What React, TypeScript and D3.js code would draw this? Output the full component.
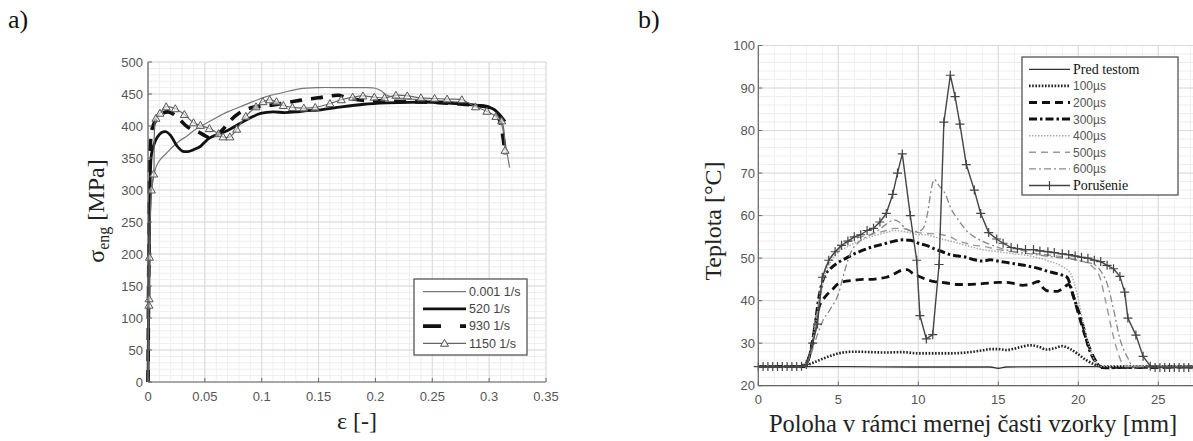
import * as d3 from "d3";

type Pt = [number, number];

// ---- panel a) : engineering stress vs strain ----
const strainTicks = [0, 0.05, 0.1, 0.15, 0.2, 0.25, 0.3, 0.35];
const stressTicks = [0, 50, 100, 150, 200, 250, 300, 350, 400, 450, 500];
const rateLabels = ["0.001 1/s", "520 1/s", "930 1/s", "1150 1/s"];

const rate0001: Pt[] = [
  [0, 0], [0.001, 150], [0.002, 250], [0.003, 295], [0.005, 322], [0.008, 340],
  [0.012, 350], [0.016, 357], [0.022, 368], [0.028, 377], [0.034, 384], [0.042, 395],
  [0.05, 403], [0.06, 413], [0.07, 422], [0.081, 430], [0.092, 438], [0.104, 446],
  [0.118, 452], [0.133, 458], [0.15, 460], [0.17, 460], [0.19, 460], [0.2, 459],
  [0.205, 455], [0.21, 448], [0.22, 444], [0.24, 441], [0.26, 439], [0.28, 436],
  [0.29, 433], [0.3, 430], [0.305, 425], [0.309, 415], [0.312, 395], [0.315, 365], [0.318, 335],
];
const rate520: Pt[] = [
  [0, 0], [0.001, 200], [0.002, 320], [0.003, 355], [0.005, 370], [0.008, 382],
  [0.012, 390], [0.016, 391], [0.02, 385], [0.025, 370], [0.03, 361], [0.035, 360],
  [0.04, 363], [0.046, 368], [0.05, 375], [0.054, 381], [0.06, 386], [0.07, 393],
  [0.08, 403], [0.09, 413], [0.1, 420], [0.11, 422], [0.12, 421], [0.13, 422],
  [0.14, 424], [0.15, 425], [0.17, 430], [0.19, 434], [0.21, 436], [0.23, 437],
  [0.25, 437], [0.27, 435], [0.29, 432], [0.3, 429], [0.305, 425], [0.31, 416], [0.314, 407],
];
const rate930: Pt[] = [
  [0, 0], [0.001, 250], [0.002, 370], [0.004, 398], [0.008, 412], [0.013, 420],
  [0.018, 422], [0.023, 418], [0.028, 410], [0.033, 401], [0.038, 395], [0.045, 390],
  [0.05, 385], [0.055, 381], [0.06, 385], [0.066, 395], [0.072, 408], [0.08, 420],
  [0.09, 428], [0.1, 431], [0.11, 433], [0.12, 436], [0.13, 439], [0.14, 442],
  [0.15, 444], [0.16, 447], [0.168, 448], [0.175, 444], [0.19, 440], [0.21, 439],
  [0.23, 438], [0.25, 437], [0.27, 435], [0.29, 432], [0.3, 429], [0.305, 423],
  [0.309, 410], [0.312, 385], [0.314, 355],
];
const rate1150: Pt[] = [
  [0, 0], [0.0008, 120], [0.001, 130], [0.0013, 195], [0.003, 300], [0.005, 325],
  [0.007, 412], [0.0105, 420], [0.016, 430], [0.024, 427], [0.032, 418], [0.04, 405],
  [0.046, 401], [0.054, 396], [0.062, 388], [0.066, 383], [0.072, 383], [0.078, 395],
  [0.086, 415], [0.095, 430], [0.101, 438], [0.107, 441], [0.113, 438], [0.119, 432],
  [0.127, 429], [0.137, 428], [0.147, 429], [0.16, 435], [0.17, 441], [0.18, 445],
  [0.189, 447], [0.199, 445], [0.208, 444], [0.218, 448], [0.228, 447], [0.24, 444],
  [0.252, 443], [0.263, 442], [0.276, 441], [0.288, 430], [0.298, 423], [0.306, 415],
  [0.311, 408], [0.314, 362],
];

// ---- panel b) : temperature along gauge length ----
const posTicks = [0, 5, 10, 15, 20, 25];
const tempTicks = [20, 30, 40, 50, 60, 70, 80, 90, 100];
const timeLabels = ["Pred testom", "100µs", "200µs", "300µs", "400µs", "500µs", "600µs", "Porušenie"];

const tBefore: Pt[] = [
  [0, 24.5], [5, 24.5], [10, 24.4], [14.5, 24.4], [15, 24.1], [15.5, 24.4], [20, 24.5], [27.3, 24.5],
];
const t100: Pt[] = [
  [0, 24.5], [2.5, 24.5], [3, 24.8], [3.5, 25.5], [4, 26.3], [4.5, 27], [5, 27.6],
  [5.5, 27.9], [6, 28], [7, 27.9], [8, 27.8], [9, 27.9], [10, 27.6], [11, 27.6],
  [12, 27.6], [13, 27.8], [14, 28.3], [14.5, 28.6], [15, 28.6], [15.5, 28.4], [16, 28.7],
  [16.5, 29.2], [17, 29.5], [17.5, 29.2], [18, 28.5], [18.5, 28.8], [19, 29.3],
  [19.5, 28.6], [20, 27.4], [20.5, 26], [21, 25], [21.5, 24.5], [27.3, 24.5],
];
const t200: Pt[] = [
  [0, 24.5], [2.8, 24.5], [3.2, 27], [3.5, 33], [3.8, 38.5], [4.2, 41], [4.6, 42.5],
  [5, 44], [5.5, 44.6], [6, 44.8], [6.5, 45], [7, 45], [7.5, 45.2], [8, 45.5], [8.5, 46.3],
  [9, 47.2], [9.3, 47.3], [9.7, 46.3], [10, 45.8], [10.5, 45], [11, 44.5], [11.5, 44.3],
  [12, 44], [12.5, 43.8], [13, 43.8], [14, 44], [15, 44.3], [15.5, 44.3], [16, 44],
  [16.5, 43.6], [17, 43.8], [17.5, 44.5], [17.8, 43], [18.2, 42.2], [18.7, 42.2],
  [19, 42.8], [19.4, 43.8], [19.7, 41], [20, 37], [20.4, 32], [20.8, 28], [21.2, 25.2],
  [21.5, 24.3], [22.5, 24.3], [27.3, 24.4],
];
const t300: Pt[] = [
  [0, 24.5], [2.8, 24.5], [3.2, 27], [3.5, 33], [3.8, 41], [4.1, 45.5], [4.5, 47.5],
  [5, 49], [5.5, 50], [6, 51], [6.5, 51.8], [7, 52.5], [7.5, 53], [8, 53.5], [8.5, 54],
  [9, 54.3], [9.5, 54.2], [10, 53.5], [10.5, 53], [11, 52.2], [11.5, 51.5], [12, 50.8],
  [12.5, 50.5], [13, 50.2], [13.5, 49.6], [14, 49.3], [14.5, 49.6], [15, 49.3],
  [15.5, 49], [16, 48.7], [16.5, 48.4], [17, 48], [17.5, 47.6], [18, 47], [18.5, 46.5],
  [19, 46], [19.3, 45.5], [19.7, 40.9], [20.2, 35.4], [20.7, 28.4], [21.15, 25.3],
  [21.5, 24.3], [22, 24.2], [22.5, 24.3], [27.3, 24.4],
];
const t400: Pt[] = [
  [0, 24.5], [2.8, 24.5], [3.2, 27], [3.6, 35], [4, 44], [4.5, 49], [5, 51.5],
  [5.5, 52.5], [6, 53.5], [7, 55], [8, 56], [8.5, 56.5], [9, 56.3], [9.5, 56],
  [10, 55.5], [10.5, 55.5], [11, 55], [12, 54], [13, 53], [14, 52], [15, 51.5], [16, 51],
  [17, 50.5], [18, 49.5], [19, 48], [19.5, 46.5], [19.9, 42], [20.3, 35], [20.7, 29],
  [21.1, 25.5], [21.4, 24.5], [27.3, 24.5],
];
const t500: Pt[] = [
  [0, 24.5], [2.8, 24.5], [3.2, 27], [3.6, 35], [4, 45], [4.5, 50], [5, 52], [5.5, 53.5],
  [6, 54.5], [7, 55.5], [8, 56.5], [8.5, 57], [9, 57], [9.5, 56.5], [10, 56], [10.5, 55.8],
  [11, 55.7], [11.5, 55.5], [12, 55], [12.5, 54], [13, 53.5], [13.5, 53], [14, 52.8],
  [15, 52], [16, 51.5], [16.5, 51.8], [17, 51.3], [18, 50.8], [19, 50.3], [20, 49.5],
  [20.7, 48.5], [21.3, 46], [21.7, 40], [22.1, 33], [22.5, 27.5], [22.9, 24.5], [27.3, 24.5],
];
const t600: Pt[] = [
  [0, 24.5], [2.8, 24.5], [3.2, 26.5], [3.6, 31], [4, 35], [4.5, 38], [5, 41.5],
  [5.4, 47], [5.8, 51.5], [6.2, 53.5], [7, 55.5], [7.5, 56.5], [8, 58], [8.5, 59],
  [8.8, 58.5], [9.2, 57], [9.6, 56.3], [10, 56.3], [10.3, 57], [10.6, 61], [10.8, 66],
  [11, 68.5], [11.3, 67], [11.7, 65], [12, 62], [12.5, 59], [13, 56.5], [13.5, 55],
  [14, 54], [15, 52.5], [16, 51.5], [17, 51], [18, 50.5], [19, 50], [20, 49.5],
  [20.5, 49], [21, 48.5], [21.5, 46.4], [21.8, 44], [22.2, 38], [22.6, 31], [23.1, 26.5],
  [23.4, 24.5], [27.3, 24.5],
];
const tFailure: Pt[] = [
  [0, 24.5], [0.3, 24.5], [0.6, 24.5], [0.9, 24.5], [1.2, 24.5], [1.5, 24.5], [1.8, 24.5],
  [2.1, 24.5], [2.4, 24.5], [2.7, 24.6], [3.0, 25], [3.4, 30], [3.7, 34.5], [4.0, 45.5],
  [4.4, 49.5], [4.8, 51.5], [5.2, 53], [5.6, 54], [6.0, 55], [6.4, 55.5], [6.8, 56.5],
  [7.2, 57], [7.6, 58.5], [8.0, 60.5], [8.4, 65], [8.7, 70], [9.0, 74.5], [9.5, 60],
  [9.9, 49.5], [10.1, 36.5], [10.5, 31], [10.9, 32], [11.3, 48.5], [11.6, 82], [12.0, 93],
  [12.3, 88], [12.6, 81.5], [13.0, 72], [13.5, 66], [13.9, 60.5], [14.4, 56], [14.9, 54.5],
  [15.3, 53.5], [15.8, 52.5], [16.2, 52.2], [16.7, 52], [17.2, 52], [17.6, 51.7],
  [18.1, 51.5], [18.5, 51.3], [19, 51], [19.4, 50.8], [19.8, 50.5], [20.2, 50.2],
  [20.6, 50], [21, 49.5], [21.4, 49.2], [21.8, 48.3], [22.2, 47.5], [22.6, 45.7],
  [22.9, 42], [23.1, 35.9], [23.6, 31.9], [24.05, 26.9], [24.5, 24.6], [24.8, 24.3],
  [25.1, 24.3], [25.4, 24.3], [25.7, 24.3], [26.0, 24.3], [26.3, 24.3], [26.6, 24.3],
  [26.9, 24.3], [27.2, 24.3],
];

const sans = "'Liberation Sans', Arial, sans-serif";
const serif = "'Liberation Serif', 'Times New Roman', serif";
const tickColor = "#555";

const xA = d3.scaleLinear().domain([0, 0.35]).range([148, 546]);
const yA = d3.scaleLinear().domain([0, 500]).range([382, 62]);
const xB = d3.scaleLinear().domain([0, 25]).range([758.3, 1158.3]);
const yB = d3.scaleLinear().domain([20, 100]).range([385.7, 45.5]);
const xBmax = 27.3;

const lineA = d3.line<Pt>().x((d) => xA(d[0])).y((d) => yA(d[1])).curve(d3.curveCatmullRom.alpha(0.5));
const lineB = d3.line<Pt>().x((d) => xB(d[0])).y((d) => yB(d[1])).curve(d3.curveMonotoneX);
const lineBLin = d3.line<Pt>().x((d) => xB(d[0])).y((d) => yB(d[1]));

const fmt = (v: number) => String(+v.toFixed(2));

function Grid({ x0, x1, y0, y1, xMinor, yMinor, xMajor, yMajor }: any) {
  return (
    <g>
      {xMinor.map((v: number, i: number) => (
        <line key={"xm" + i} x1={v} x2={v} y1={y0} y2={y1} stroke="#eeeeee" strokeWidth={1} />
      ))}
      {yMinor.map((v: number, i: number) => (
        <line key={"ym" + i} x1={x0} x2={x1} y1={v} y2={v} stroke="#eeeeee" strokeWidth={1} />
      ))}
      {xMajor.map((v: number, i: number) => (
        <line key={"xM" + i} x1={v} x2={v} y1={y0} y2={y1} stroke="#dadada" strokeWidth={1} />
      ))}
      {yMajor.map((v: number, i: number) => (
        <line key={"yM" + i} x1={x0} x2={x1} y1={v} y2={v} stroke="#dadada" strokeWidth={1} />
      ))}
    </g>
  );
}

const triangle = (cx: number, cy: number, r = 4) =>
  `M${cx},${cy - r}L${cx + r},${cy + r * 0.75}L${cx - r},${cy + r * 0.75}Z`;
const plus = (cx: number, cy: number, r = 4.5) => `M${cx - r},${cy}H${cx + r}M${cx},${cy - r}V${cy + r}`;

export default function App() {
  const aMinorX = d3.range(0, 0.3501, 0.01).map(xA);
  const aMinorY = d3.range(0, 501, 10).map(yA);
  const bMinorX = d3.range(0, xBmax, 1).map(xB);
  const bMinorY = d3.range(20, 101, 2).map(yB);

  const aSeries = [
    { data: rate0001, stroke: "#777", w: 1.2, dash: undefined },
    { data: rate520, stroke: "#111", w: 2.8, dash: undefined },
    { data: rate930, stroke: "#111", w: 3.6, dash: "12 9" },
    { data: rate1150, stroke: "#666", w: 1.2, dash: undefined },
  ];
  const aLegendDash = [undefined, undefined, "18 19", undefined];

  const bSeries = [
    { data: tBefore, stroke: "#333", w: 1.3, dash: undefined },
    { data: t100, stroke: "#222", w: 2.6, dash: "1.6 1.6" },
    { data: t200, stroke: "#111", w: 2.8, dash: "8 5" },
    { data: t300, stroke: "#111", w: 3, dash: "8 3 2.5 3" },
    { data: t400, stroke: "#aaa", w: 1.4, dash: "1.5 1.5" },
    { data: t500, stroke: "#999", w: 1.4, dash: "7 5" },
    { data: t600, stroke: "#888", w: 1.3, dash: "7 3 2 3" },
    { data: tFailure, stroke: "#444", w: 1.4, dash: undefined },
  ];

  return (
    <div style={{ position: "absolute", left: 0, top: 0 }}>
      <svg width={1193} height={441} style={{ display: "block", background: "#fff" }}>
        {/* ===== Panel a ===== */}
        <text x={8} y={28} fontFamily={serif} fontSize={26} fill="#111">a)</text>
        <Grid x0={148} x1={546} y0={62} y1={382} xMinor={aMinorX} yMinor={aMinorY}
          xMajor={strainTicks.map(xA)} yMajor={stressTicks.map(yA)} />
        {aSeries.map((s, i) => (
          <path key={"a" + i} d={lineA(s.data) || ""} fill="none" stroke={s.stroke}
            strokeWidth={s.w} strokeDasharray={s.dash} strokeLinejoin="round" />
        ))}
        {rate1150.slice(1).map((d, i) => (
          <path key={"tri" + i} d={triangle(xA(d[0]), yA(d[1]))} fill="#f4f4f4" fillOpacity={0.6}
            stroke="#555" strokeWidth={1} />
        ))}
        {/* axes */}
        <line x1={148} x2={546} y1={382} y2={382} stroke="#666" strokeWidth={1.2} />
        <line x1={148} x2={148} y1={62} y2={382} stroke="#666" strokeWidth={1.2} />
        {strainTicks.map((v) => (
          <g key={"ax" + v}>
            <line x1={xA(v)} x2={xA(v)} y1={382} y2={378} stroke="#666" />
            <text x={xA(v)} y={401} textAnchor="middle" fontFamily={sans} fontSize={13} fill={tickColor}>{fmt(v)}</text>
          </g>
        ))}
        {stressTicks.map((v) => (
          <g key={"ay" + v}>
            <line x1={148} x2={152} y1={yA(v)} y2={yA(v)} stroke="#666" />
            <text x={143} y={yA(v) + 4.5} textAnchor="end" fontFamily={sans} fontSize={13} fill={tickColor}>{v}</text>
          </g>
        ))}
        <text x={357} y={429} textAnchor="middle" fontFamily={serif} fontSize={24} fill="#222">ε [-]</text>
        <text transform={`translate(104,${211}) rotate(-90)`} textAnchor="middle" fontFamily={serif} fontSize={24} fill="#222">
          σ<tspan fontSize={16} dy={5}>eng</tspan><tspan dy={-5}> [MPa]</tspan>
        </text>
        {/* legend a */}
        <rect x={414} y={279} width={113} height={76} fill="#fff" stroke="#555" strokeWidth={1.3} />
        {rateLabels.map((lab, i) => {
          const yy = 291.7 + i * 17.2;
          const s = aSeries[i];
          return (
            <g key={"la" + i}>
              <line x1={423} x2={466} y1={yy} y2={yy} stroke={s.stroke} strokeWidth={s.w}
                strokeDasharray={aLegendDash[i]} />
              {i === 3 && <path d={triangle(444.5, yy)} fill="#f4f4f4" stroke="#555" strokeWidth={1} />}
              <text x={469} y={yy + 4.3} fontFamily={sans} fontSize={12.5} fill="#444">{lab}</text>
            </g>
          );
        })}

        {/* ===== Panel b ===== */}
        <text x={638} y={28} fontFamily={serif} fontSize={26} fill="#111">b)</text>
        <Grid x0={758.3} x1={1193} y0={45.5} y1={385.7} xMinor={bMinorX} yMinor={bMinorY}
          xMajor={posTicks.map(xB)} yMajor={tempTicks.map(yB)} />
        {bSeries.map((s, i) => (
          <path key={"b" + i} d={(i === 7 ? lineBLin(s.data) : lineB(s.data)) || ""} fill="none"
            stroke={s.stroke} strokeWidth={s.w} strokeDasharray={s.dash} strokeLinejoin="round" />
        ))}
        {tFailure.map((d, i) => (
          <path key={"pl" + i} d={plus(xB(d[0]), yB(d[1]))} stroke="#444" strokeWidth={1.2} />
        ))}
        <line x1={758.3} x2={1193} y1={385.7} y2={385.7} stroke="#666" strokeWidth={1.2} />
        <line x1={758.3} x2={758.3} y1={45.5} y2={385.7} stroke="#666" strokeWidth={1.2} />
        {posTicks.map((v) => (
          <g key={"bx" + v}>
            <line x1={xB(v)} x2={xB(v)} y1={385.7} y2={381.7} stroke="#666" />
            <text x={xB(v)} y={404} textAnchor="middle" fontFamily={sans} fontSize={13} fill={tickColor}>{v}</text>
          </g>
        ))}
        {tempTicks.map((v) => (
          <g key={"by" + v}>
            <line x1={758.3} x2={762.3} y1={yB(v)} y2={yB(v)} stroke="#666" />
            <text x={755} y={yB(v) + 4.5} textAnchor="end" fontFamily={sans} fontSize={13} fill={tickColor}>{v}</text>
          </g>
        ))}
        <text x={973} y={432} textAnchor="middle" fontFamily={serif} fontSize={24.5} fill="#222">
          Poloha v rámci mernej časti vzorky [mm]
        </text>
        <text transform={`translate(721,221) rotate(-90)`} textAnchor="middle" fontFamily={serif} fontSize={24} fill="#222">
          Teplota [°C]
        </text>
        {/* legend b */}
        <rect x={1022} y={57} width={156} height={138} fill="#fff" stroke="#555" strokeWidth={1.3} />
        {timeLabels.map((lab, i) => {
          const yy = 69.3 + i * 16.6;
          const s = bSeries[i];
          const isSerif = i === 0 || i === 7;
          return (
            <g key={"lb" + i}>
              <line x1={1029} x2={1070} y1={yy} y2={yy} stroke={s.stroke} strokeWidth={s.w}
                strokeDasharray={s.dash} />
              {i === 7 && <path d={plus(1049.5, yy)} stroke="#444" strokeWidth={1.2} />}
              <text x={1073} y={yy + 4.5} fontFamily={isSerif ? serif : sans}
                fontSize={isSerif ? 14 : 12} fill={isSerif ? "#111" : "#555"}>{lab}</text>
            </g>
          );
        })}
      </svg>
    </div>
  );
}
